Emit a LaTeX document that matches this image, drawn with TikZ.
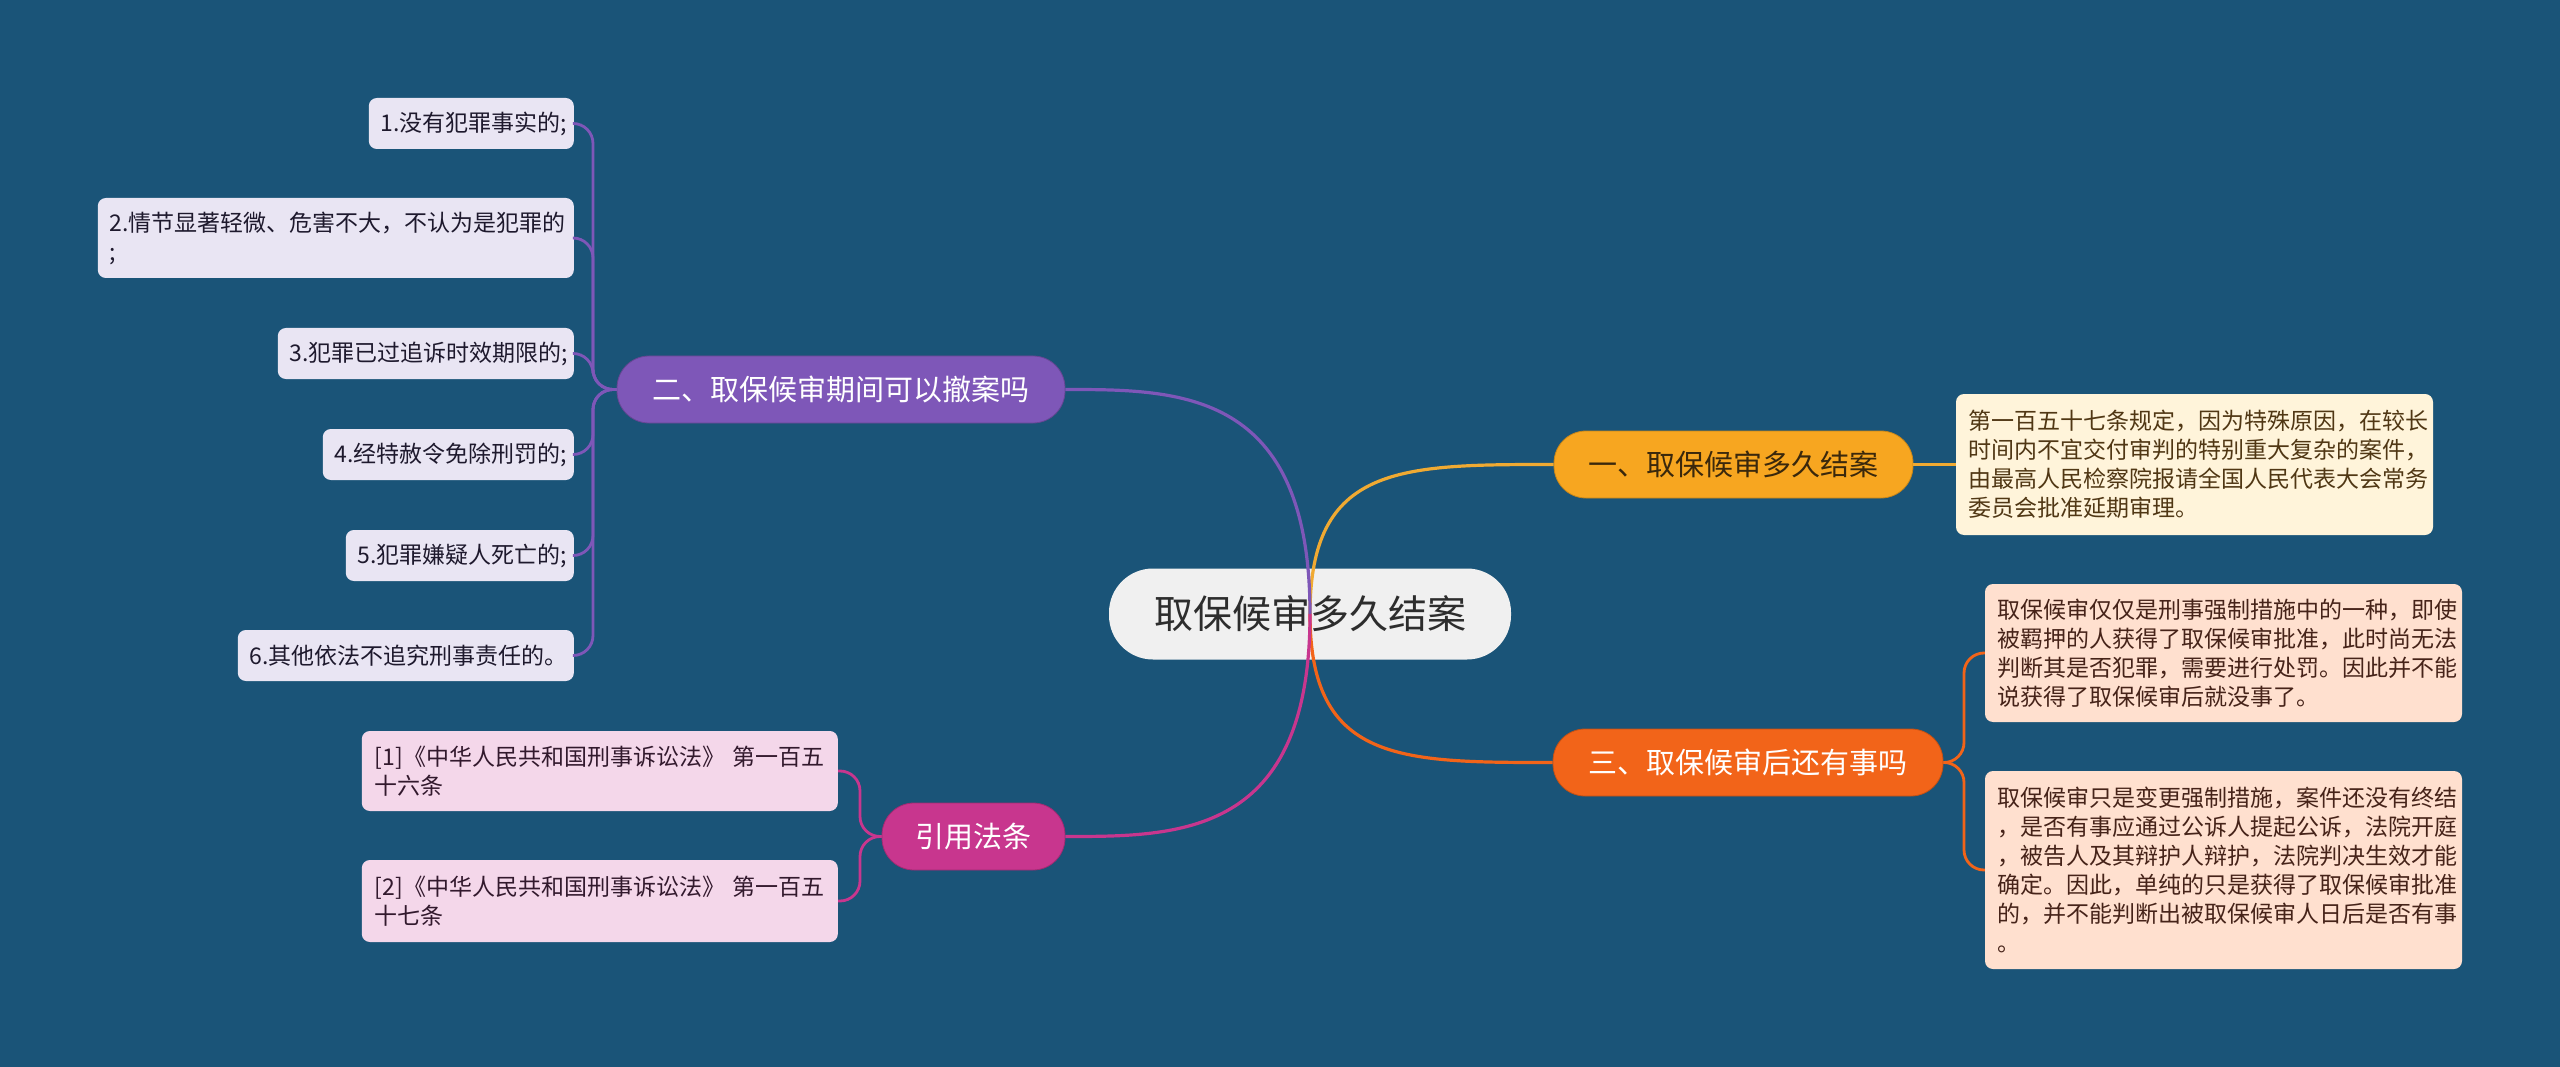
\documentclass[tikz,border=0pt]{standalone}
\usepackage{fontspec}
\setmainfont{Noto Sans CJK SC}
\definecolor{bgc}{RGB}{26,84,120}
\definecolor{cfill}{RGB}{240,240,240}
\definecolor{ctext}{RGB}{45,45,45}
\definecolor{orA}{RGB}{247,166,32}
\definecolor{orAtext}{RGB}{58,40,12}
\definecolor{orAline}{RGB}{240,170,50}
\definecolor{orB}{RGB}{242,100,25}
\definecolor{purp}{RGB}{126,87,184}
\definecolor{mag}{RGB}{200,54,142}
\definecolor{lav}{RGB}{233,229,243}
\definecolor{pinkf}{RGB}{244,215,234}
\definecolor{cream}{RGB}{255,244,218}
\definecolor{peach}{RGB}{255,224,207}
\definecolor{leaftext}{RGB}{30,25,45}
\definecolor{reftext}{RGB}{50,25,45}
\definecolor{dettext}{RGB}{80,55,20}
\definecolor{det3text}{RGB}{70,35,25}
\tikzset{
  bodyfont/.style={font=\fontsize{23}{29}\selectfont},
  boxbase/.style={bodyfont, rounded corners=8pt, align=left, inner xsep=12pt, inner ysep=0pt},
  leafbox/.style={boxbase, fill=lav, text=leaftext, anchor=east},
  refbox/.style={boxbase, fill=pinkf, text=reftext, anchor=east, inner xsep=13pt},
  detbox/.style={boxbase, fill=cream, text=dettext},
  det3box/.style={boxbase, fill=peach, text=det3text},
  branchbox/.style={font=\fontsize{29}{34}\selectfont, rounded corners=32pt, minimum height=67pt, inner xsep=0pt, inner ysep=0pt, align=center},
  mainline/.style={line width=3.2pt},
  subline/.style={line width=2.8pt, rounded corners=20pt}
}
\begin{document}
\begin{tikzpicture}[x=1pt,y=-1pt]
\useasboundingbox (0,0) rectangle (2560,1067);
\fill[bgc] (0,0) rectangle (2560,1067);

% center
\node[fill=cfill, text=ctext, rounded corners=44pt, minimum width=402pt, minimum height=91pt, inner sep=0pt, font=\fontsize{39}{44}\selectfont] (c) at (1310,614) {取保候审多久结案};

% branches
\node[branchbox, fill=orA, draw=orA!80!black, line width=0.8pt, text=orAtext, minimum width=359pt] (b1) at (1733.5,464.5) {一、取保候审多久结案};
\node[branchbox, fill=purp, draw=purp!80!black, line width=0.8pt, text=white, minimum width=448pt] (b2) at (841,389.5) {二、取保候审期间可以撤案吗};
\node[branchbox, fill=orB, draw=orB!80!black, line width=0.8pt, text=white, minimum width=390pt] (b3) at (1748,762.5) {三、取保候审后还有事吗};
\node[branchbox, fill=mag, draw=mag!80!black, line width=0.8pt, text=white, minimum width=183pt] (b4) at (973.5,836.5) {引用法条};

% left leaves
\node[leafbox, text width=181pt, minimum height=51pt] (i1) at (574,123.5) {1.没有犯罪事实的;};
\node[leafbox, text width=452pt, minimum height=80pt] (i2) at (574,238) {2.情节显著轻微、危害不大，不认为是犯罪的\\;};
\node[leafbox, text width=272pt, minimum height=51pt] (i3) at (574,353.5) {3.犯罪已过追诉时效期限的;};
\node[leafbox, text width=227pt, minimum height=51pt] (i4) at (574,454.5) {4.经特赦令免除刑罚的;};
\node[leafbox, text width=204pt, minimum height=51pt] (i5) at (574,555.5) {5.犯罪嫌疑人死亡的;};
\node[leafbox, text width=312pt, minimum height=51pt] (i6) at (574,655.5) {6.其他依法不追究刑事责任的。};

% references
\node[refbox, text width=450pt, minimum height=80pt] (r1) at (838,771) {[1]《中华人民共和国刑事诉讼法》 第一百五\\十六条};
\node[refbox, text width=450pt, minimum height=82pt] (r2) at (838,901) {[2]《中华人民共和国刑事诉讼法》 第一百五\\十七条};

% details
\node[detbox, text width=453pt, minimum height=141pt] (d1) at (2194.5,464.5) {第一百五十七条规定，因为特殊原因，在较长\\时间内不宜交付审判的特别重大复杂的案件，\\由最高人民检察院报请全国人民代表大会常务\\委员会批准延期审理。};
\node[det3box, text width=453pt, minimum height=138pt] (d3a) at (2223.5,653) {取保候审仅仅是刑事强制措施中的一种，即使\\被羁押的人获得了取保候审批准，此时尚无法\\判断其是否犯罪，需要进行处罚。因此并不能\\说获得了取保候审后就没事了。};
\node[det3box, text width=453pt, minimum height=198pt] (d3b) at (2223.5,870) {取保候审只是变更强制措施，案件还没有终结\\，是否有事应通过公诉人提起公诉，法院开庭\\，被告人及其辩护人辩护，法院判决生效才能\\确定。因此，单纯的只是获得了取保候审批准\\的，并不能判断出被取保候审人日后是否有事\\。};

% junctions
\coordinate (j2) at (593,389.5);
\coordinate (j3) at (1964,762.5);
\coordinate (j4) at (860,836.5);

% sub connectors
\foreach \n in {i1,i2,i3,i4,i5,i6}{
  \draw[subline, purp] (b2.west) -- (j2) |- (\n.east);
}
\foreach \n in {r1,r2}{
  \draw[subline, mag] (b4.west) -- (j4) |- (\n.east);
}
\foreach \n in {d3a,d3b}{
  \draw[subline, orB] (b3.east) -- (j3) |- (\n.west);
}
\draw[line width=2.8pt, orAline] (b1.east) -- (d1.west);

% main connectors (drawn over the centre node)
\draw[mainline, orAline] (c.center) .. controls (1310,464.5) and (1400,464.5) .. (b1.west);
\draw[mainline, purp] (c.center) .. controls (1310,389.5) and (1180,389.5) .. (b2.east);
\draw[mainline, orB] (c.center) .. controls (1310,762.5) and (1400,762.5) .. (b3.west);
\draw[mainline, mag] (c.center) .. controls (1310,836.5) and (1180,836.5) .. (b4.east);
\end{tikzpicture}
\end{document}
